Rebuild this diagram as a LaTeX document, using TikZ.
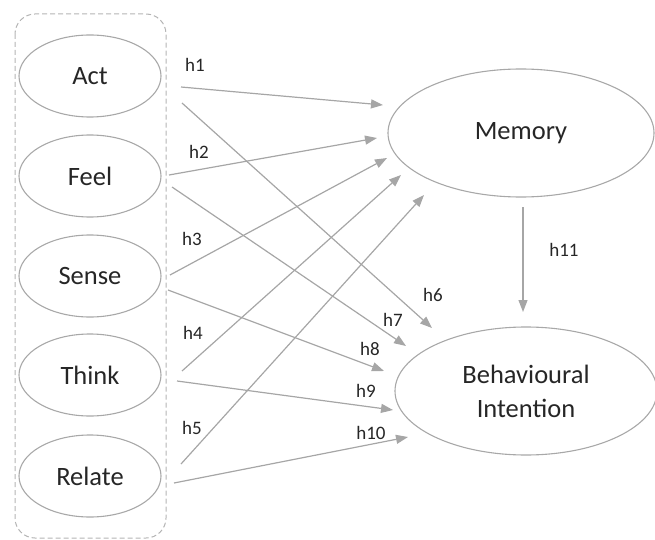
\documentclass[tikz,border=0pt]{standalone}
\usepackage{fontspec}
\setmainfont{Carlito}
\usetikzlibrary{shapes.geometric,arrows.meta}
\definecolor{txt}{HTML}{262626}
\definecolor{ln}{HTML}{A6A6A6}
\definecolor{ell}{HTML}{A8A8A8}
\definecolor{boxgray}{HTML}{B4B4B4}
\begin{document}
\begin{tikzpicture}[x=1pt,y=-1pt,
  construct/.style={ellipse,draw=ell,line width=1.1pt,inner sep=0pt,text=txt,font=\fontsize{26.5}{30}\selectfont,align=center},
  small/.style={construct,minimum width=142,minimum height=82},
  big/.style={construct,minimum width=266,minimum height=128},
  path/.style={draw=ln,line width=1.2pt,-{Triangle[length=12pt,width=9pt]}},
  hlab/.style={text=txt,font=\fontsize{19}{22}\selectfont,inner sep=0pt}]
\useasboundingbox (0,0) rectangle (655,540);
\draw[draw=boxgray,line width=1pt,dash pattern=on 5pt off 3pt,rounded corners=20pt] (15,14) rectangle (166,538);
\node[small] (act) at (90,76) {Act};
\node[small] (feel) at (90,176) {Feel};
\node[small] (sense) at (90,276) {Sense};
\node[small] (think) at (90,375) {Think};
\node[small] (relate) at (90,476) {Relate};
\node[big] (mem) at (521,133) {Memory};
\node[construct,minimum width=262,minimum height=128] (bi) at (526,391) {Behavioural\\[4pt]Intention};
% to Memory
\draw[path] ([shift={(91,11)}]act.center) -- ([shift={(-138,-28)}]mem.center);
\draw[path] ([shift={(79,-1)}]feel.center) -- ([shift={(-144,5)}]mem.center);
\draw[path] ([shift={(80,-1)}]sense.center) -- ([shift={(-134,25)}]mem.center);
\draw[path] ([shift={(92,-4)}]think.center) -- ([shift={(-120,42)}]mem.center);
\draw[path] ([shift={(91,-12)}]relate.center) -- ([shift={(-97,62)}]mem.center);
% to Behavioural Intention
\draw[path] ([shift={(92,27)}]act.center) -- ([shift={(-94,-63)}]bi.center);
\draw[path] ([shift={(82,11)}]feel.center) -- ([shift={(-120,-45)}]bi.center);
\draw[path] ([shift={(78,14)}]sense.center) -- ([shift={(-142,-20)}]bi.center);
\draw[path] ([shift={(87,6)}]think.center) -- ([shift={(-133,19)}]bi.center);
\draw[path] ([shift={(84,7)}]relate.center) -- ([shift={(-118,46)}]bi.center);
\draw[path] ([shift={(2,74)}]mem.center) -- ([shift={(-3,-79)}]bi.center);
% labels
\node[hlab] (l1) at (195,65) {h1};
\node[hlab] (l2) at (199,152) {h2};
\node[hlab] (l3) at (192,239) {h3};
\node[hlab] (l4) at (193,333) {h4};
\node[hlab] (l5) at (192,428) {h5};
\node[hlab] (l6) at (433,295) {h6};
\node[hlab] (l7) at (393,320) {h7};
\node[hlab] (l8) at (370,349) {h8};
\node[hlab] (l9) at (366,391) {h9};
\node[hlab] (l10) at (371,433) {h10};
\node[hlab] (l11) at (564,250) {h11};
\end{tikzpicture}
\end{document}
